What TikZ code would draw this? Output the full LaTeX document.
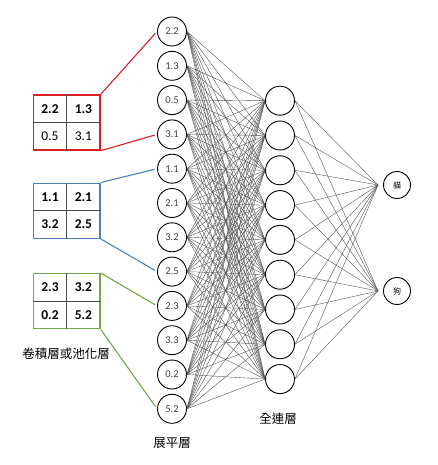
\documentclass[tikz,border=0pt]{standalone}
\usepackage{fontspec}
\setmainfont{Carlito}
\newfontfamily\cjk{Noto Sans CJK TC}
\usetikzlibrary{positioning}
\definecolor{boxred}{RGB}{220,30,35}
\definecolor{boxblue}{RGB}{70,130,190}
\definecolor{boxgreen}{RGB}{112,168,70}
\definecolor{edgegray}{RGB}{85,85,85}
\tikzset{
    neuron/.style={draw, circle, line width=0.9pt, minimum size=29pt, inner sep=0pt,
        font=\fontsize{10.5}{11}\selectfont, text=black!75},
    hidden/.style={draw, circle, line width=0.9pt, minimum size=29pt, inner sep=0pt},
    outnode/.style={draw, circle, line width=0.9pt, minimum size=27pt, inner sep=0pt,
        font=\cjk\fontsize{8}{9}\selectfont},
    link/.style={draw=edgegray, line width=0.4pt},
    poolbox/.style={draw=#1, line width=1.4pt, minimum width=66.7pt, minimum height=55pt, inner sep=0pt},
    cell/.style={font=\fontsize{13.5}{14}\selectfont},
    caption/.style={font=\cjk\fontsize{12.5}{14}\selectfont}
}
\begin{document}
\begin{tikzpicture}[x=1pt, y=-1pt]
    \useasboundingbox (0,0) rectangle (437,465);

    % flatten layer
    \foreach \v [count=\i] in {2.2,1.3,0.5,3.1,1.1,2.1,3.2,2.5,2.3,3.3,0.2,5.2}
        \node[neuron] (f\i) at (172,{31.5+34.3*(\i-1)}) {\v};

    % fully connected layer
    \foreach \i in {1,...,9}
        \node[hidden] (h\i) at (280,{100.7+34.8*(\i-1)}) {};

    % output
    \node[outnode] (o1) at (397,185) {貓};
    \node[outnode] (o2) at (397,291) {狗};
    \coordinate (o1in) at ([xshift=-5]o1.west);
    \coordinate (o2in) at ([xshift=-5]o2.west);

    % connections
    \foreach \i in {1,...,12}
        \foreach \j in {1,...,9}
            \draw[link] (f\i.east) -- (h\j.west);
    \foreach \j in {1,...,9} {
        \draw[link] (h\j.east) -- (o1in);
        \draw[link] (h\j.east) -- (o2in);
    }

    % pooled maps
    \foreach \name/\col/\yc/\a/\b/\c/\d/\top/\bot in {
        redbox/boxred/122.5/\textbf{2.2}/\textbf{1.3}/0.5/3.1/f1/f4,
        bluebox/boxblue/210.7/\textbf{1.1}/\textbf{2.1}/\textbf{3.2}/\textbf{2.5}/f5/f8,
        greenbox/boxgreen/301.2/\textbf{2.3}/\textbf{3.2}/\textbf{0.2}/\textbf{5.2}/f9/f12} {
        \node[poolbox=\col] (\name) at (66.7,\yc) {};
        \draw[black!70, line width=0.7pt] (\name.north) -- (\name.south);
        \draw[black!70, line width=0.7pt] (\name.west) -- (\name.east);
        \node[cell] at (50,\yc-13.75) {\a};
        \node[cell] at (83.4,\yc-13.75) {\b};
        \node[cell] at (50,\yc+13.75) {\c};
        \node[cell] at (83.4,\yc+13.75) {\d};
        \draw[\col, line width=1.1pt, shorten >=2.5pt] (\name.north east) -- (\top.west);
        \draw[\col, line width=1.1pt, shorten >=2.5pt] (\name.south east) -- (\bot.west);
    }

    % labels
    \node[caption] (convlabel) at (66,354) {卷積層或池化層};
    \node[caption] (flatlabel) at (172,443) {展平層};
    \node[caption] (fclabel) at (278,419) {全連層};
\end{tikzpicture}
\end{document}
